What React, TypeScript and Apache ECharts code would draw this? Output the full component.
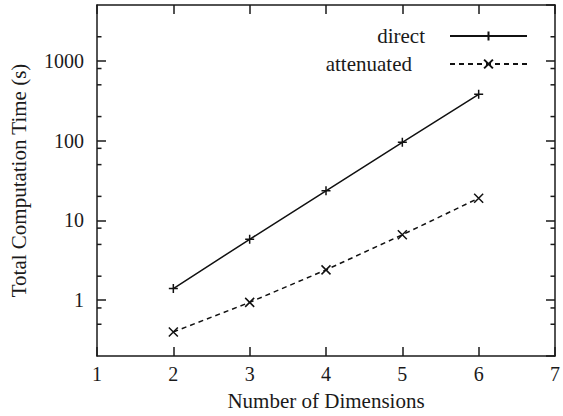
import React, { useEffect, useRef } from "react";
import * as echarts from "echarts";

const dimensions = [2, 3, 4, 5, 6];
const directTimes = [1.4, 5.8, 23.5, 95, 380];
const attenuatedTimes = [0.4, 0.94, 2.4, 6.6, 19];
const xTicks = [1, 2, 3, 4, 5, 6, 7];
const yMinorTicks = [0.5, 0.8, 2, 5, 8, 20, 50, 80, 200, 500, 800, 2000];

const X_MIN = 1;
const X_MAX = 7;
const Y_MIN = 0.2;
const Y_MAX = 5000;

const FONT = "Liberation Serif";
const INK = "#1a1a1a";

const plusPath = "path://M5,0L5,10M0,5L10,5";
const crossPath = "path://M0,0L10,10M0,10L10,0";

export default function App() {
  const ref = useRef<HTMLDivElement>(null);

  useEffect(() => {
    if (!ref.current) return;
    const chart = echarts.init(ref.current, undefined, { renderer: "svg" });

    const axisLine = { show: true, lineStyle: { color: INK, width: 1.5 } };

    const option: any = {
      animation: false,
      backgroundColor: "#fff",
      textStyle: { fontFamily: FONT },
      grid: { left: 96, right: 2, top: 5, bottom: 59, containLabel: false },
      legend: [
        {
          data: ["direct"],
          orient: "vertical",
          align: "right",
          right: 35,
          top: 25.5,
          padding: 0,
          itemWidth: 77,
          itemHeight: 11,
          selectedMode: false,
          textStyle: { fontFamily: FONT, fontSize: 21, color: INK, padding: [0, 20, 0, 0] },
        },
        {
          data: ["attenuated"],
          orient: "vertical",
          align: "right",
          right: 35,
          top: 53.5,
          padding: 0,
          itemWidth: 77,
          itemHeight: 11,
          selectedMode: false,
          textStyle: { fontFamily: FONT, fontSize: 21, color: INK, padding: [0, 33, 0, 0] },
        },
      ],
      xAxis: [
        {
          type: "value",
          min: X_MIN,
          max: X_MAX,
          interval: 1,
          position: "bottom",
          name: "Number of Dimensions",
          nameLocation: "middle",
          nameGap: 34,
          nameTextStyle: { fontFamily: FONT, fontSize: 21, color: INK },
          axisLine,
          axisTick: { show: true, inside: true, length: 9, lineStyle: { color: INK, width: 1.5 } },
          axisLabel: {
            show: true,
            margin: 8,
            fontFamily: FONT,
            fontSize: 20,
            color: INK,
            formatter: (v: number) => (xTicks.includes(v) ? String(v) : ""),
          },
          splitLine: { show: false },
        },
        {
          type: "value",
          min: X_MIN,
          max: X_MAX,
          interval: 1,
          position: "top",
          axisLine,
          axisTick: { show: true, inside: true, length: 9, lineStyle: { color: INK, width: 1.5 } },
          axisLabel: { show: false },
          splitLine: { show: false },
        },
      ],
      yAxis: [
        {
          type: "log",
          logBase: 10,
          min: Y_MIN,
          max: Y_MAX,
          position: "left",
          name: "Total Computation Time (s)",
          nameLocation: "middle",
          nameGap: 68,
          nameTextStyle: { fontFamily: FONT, fontSize: 21, color: INK },
          axisLine,
          axisTick: { show: true, inside: true, length: 9, lineStyle: { color: INK, width: 1.5 } },
          axisLabel: {
            show: true,
            margin: 13,
            fontFamily: FONT,
            fontSize: 20,
            color: INK,
            showMinLabel: false,
            showMaxLabel: false,
            formatter: (v: number) => (v >= 1 ? String(Math.round(v)) : String(v)),
          },
          splitLine: { show: false },
          minorTick: { show: false },
        },
        {
          type: "log",
          logBase: 10,
          min: Y_MIN,
          max: Y_MAX,
          position: "right",
          axisLine,
          axisTick: { show: true, inside: true, length: 9, lineStyle: { color: INK, width: 1.5 } },
          axisLabel: { show: false },
          splitLine: { show: false },
        },
      ],
      series: [
        {
          name: "direct",
          type: "line",
          xAxisIndex: 0,
          yAxisIndex: 0,
          data: dimensions.map((d, i) => [d, directTimes[i]]),
          symbol: plusPath,
          symbolSize: 9,
          showAllSymbol: true,
          lineStyle: { color: "#111", width: 1.5, type: "solid" },
          itemStyle: { color: "#111", borderColor: "#111", borderWidth: 1.5 },
          z: 3,
        },
        {
          name: "attenuated",
          type: "line",
          xAxisIndex: 0,
          yAxisIndex: 0,
          data: dimensions.map((d, i) => [d, attenuatedTimes[i]]),
          symbol: crossPath,
          symbolSize: 9,
          showAllSymbol: true,
          lineStyle: { color: "#111", width: 1.5, type: [5, 4] },
          itemStyle: { color: "#111", borderColor: "#111", borderWidth: 1.5 },
          z: 3,
        },
        {
          name: "minorTicks",
          type: "custom",
          xAxisIndex: 0,
          yAxisIndex: 0,
          silent: true,
          clip: false,
          data: yMinorTicks.map((v) => [X_MIN, v]),
          encode: { x: 0, y: 1 },
          renderItem: (_params: any, api: any) => {
            const v = api.value(1);
            const l = api.coord([X_MIN, v]);
            const r = api.coord([X_MAX, v]);
            const style = { stroke: INK, lineWidth: 1.5 };
            return {
              type: "group",
              children: [
                { type: "line", shape: { x1: l[0], y1: l[1], x2: l[0] + 4.5, y2: l[1] }, style },
                { type: "line", shape: { x1: r[0] - 4.5, y1: r[1], x2: r[0], y2: r[1] }, style },
              ],
            };
          },
          z: 2,
        },
      ],
    };

    chart.setOption(option);
    return () => chart.dispose();
  }, []);

  return (
    <div
      ref={ref}
      style={{ position: "absolute", left: 0, top: 0, width: 563, height: 416, background: "#fff" }}
    />
  );
}
